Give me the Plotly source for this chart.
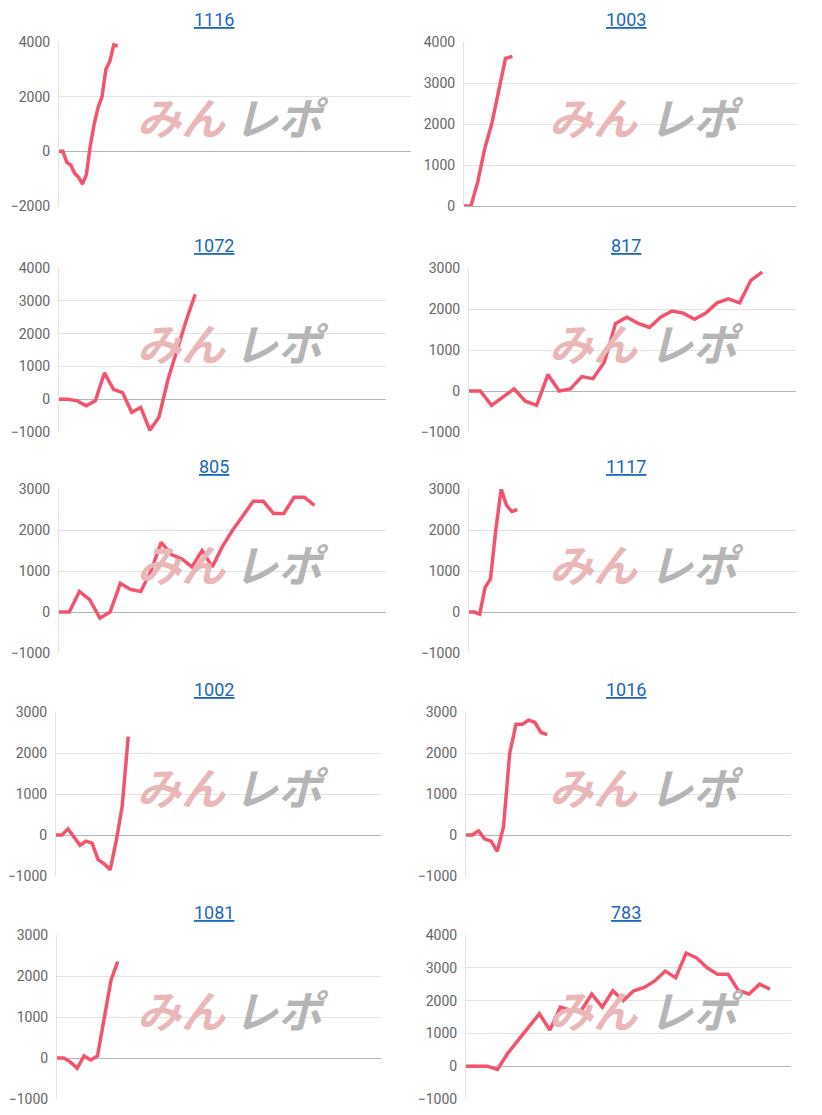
import plotly.graph_objects as go

titles = ["1116", "1003", "1072", "817", "805", "1117", "1002", "1016", "1081", "783"]
s1116 = [0, 0, -400, -500, -800, -950, -1200, -850, 200, 1000, 1600, 2000, 3000, 3300, 3900, 3850]
s1003 = [0, 0, 600, 1400, 2000, 2800, 3600, 3650]
s1072 = [0, 0, -50, -200, -50, 800, 300, 200, -400, -250, -950, -550, 600, 1500, 2400, 3200]
s817 = [0, 0, -350, -150, 50, -250, -350, 400, 0, 50, 350, 300, 700, 1650, 1800, 1650, 1550, 1800,
        1950, 1900, 1750, 1900, 2150, 2250, 2150, 2700, 2900]
s805 = [0, 0, 500, 300, -150, 0, 700, 550, 500, 1000, 1700, 1400, 1300, 1100, 1500, 1100, 1600,
        2000, 2350, 2700, 2700, 2400, 2400, 2800, 2800, 2600]
s1117 = [0, 0, -50, 600, 800, 2000, 3000, 2600, 2450, 2500]
s1002 = [0, 0, 150, -50, -250, -150, -200, -600, -700, -850, -150, 700, 2400]
s1016 = [0, 0, 100, -100, -150, -400, 200, 2000, 2700, 2700, 2800, 2750, 2500, 2450]
s1081 = [0, 0, -100, -250, 50, -50, 50, 1000, 1900, 2350]
s783 = [0, 0, 0, -100, 400, 800, 1200, 1600, 1100, 1800, 1700, 1700, 2200, 1800, 2300, 2000, 2300,
        2400, 2600, 2900, 2700, 3450, 3300, 3000, 2800, 2800, 2300, 2200, 2500, 2350]
series = [s1116, s1003, s1072, s817, s805, s1117, s1002, s1016, s1081, s783]
y_ranges = [(-2000, 4000, 2000), (0, 4000, 1000), (-1000, 4000, 1000), (-1000, 3000, 1000),
            (-1000, 3000, 1000), (-1000, 3000, 1000), (-1000, 3000, 1000), (-1000, 3000, 1000),
            (-1000, 3000, 1000), (-1000, 4000, 1000)]
x_max = [90, 48, 36, 29, 32, 61, 54, 52, 48, 31]

W, H = 822, 1115
OFF = 7
x_px = [(58, 410), (463, 795), (58, 385), (468, 795), (58, 385), (468, 795),
        (55, 380), (465, 790), (56, 380), (465, 790)]
title_cx = [213, 625]
wm_cx = [(180, 280), (592, 695)]
row_top = [41, 267, 488, 711, 934]
ph = 164

fig = go.Figure()
layout = dict(width=W, height=H, margin=dict(l=0, r=0, t=0, b=0, autoexpand=False),
              paper_bgcolor="white", plot_bgcolor="white", showlegend=False)
ann = []
for i, (t, s) in enumerate(zip(titles, series)):
    r, c = i // 2, i % 2
    n = "" if i == 0 else str(i + 1)
    x0, x1 = x_px[i][0] - OFF, x_px[i][1] - OFF
    top = row_top[r] - OFF
    lo, hi, dt = y_ranges[i]
    fig.add_trace(go.Scatter(x=list(range(len(s))), y=s, mode="lines",
                             line=dict(color="#f4536e", width=3.5),
                             xaxis="x" + n, yaxis="y" + n))
    layout["xaxis" + n] = dict(domain=[x0 / W, x1 / W], range=[0, x_max[i]], visible=False,
                               anchor="y" + n, automargin=False)
    layout["yaxis" + n] = dict(domain=[1 - (top + ph) / H, 1 - top / H], range=[lo, hi],
                               dtick=dt, tick0=lo, anchor="x" + n, gridcolor="#e3e3e3",
                               zeroline=True, zerolinecolor="#b5b5b5", zerolinewidth=1,
                               showline=True, linecolor="#e3e3e3", automargin=False,
                               tickfont=dict(family="Roboto, Arial", size=14, color="#666"),
                               ticks="", ticklabelstandoff=5)
    ann.append(dict(text="<u>" + t + "</u>", x=(title_cx[c] - OFF) / W, y=1 - (top - 23) / H,
                    xref="paper", yref="paper", xanchor="center", yanchor="middle",
                    showarrow=False, font=dict(family="Roboto, Arial", size=18, color="#1a66c2")))
    wy = 1 - (top + 74) / H
    ann.append(dict(text="<b><i>みん</i></b>", x=(wm_cx[c][0] - OFF) / W, y=wy, xref="paper",
                    yref="paper", xanchor="center", yanchor="middle",
                    showarrow=False, font=dict(family="Noto Sans CJK JP", size=44, color="#e9b7b7")))
    ann.append(dict(text="<b><i>レポ</i></b>", x=(wm_cx[c][1] - OFF) / W, y=wy, xref="paper",
                    yref="paper", xanchor="center", yanchor="middle",
                    showarrow=False, font=dict(family="Noto Sans CJK JP", size=44, color="#b5b5b5")))
layout["annotations"] = ann
fig.update_layout(**layout)
fig.write_html("out.html")
